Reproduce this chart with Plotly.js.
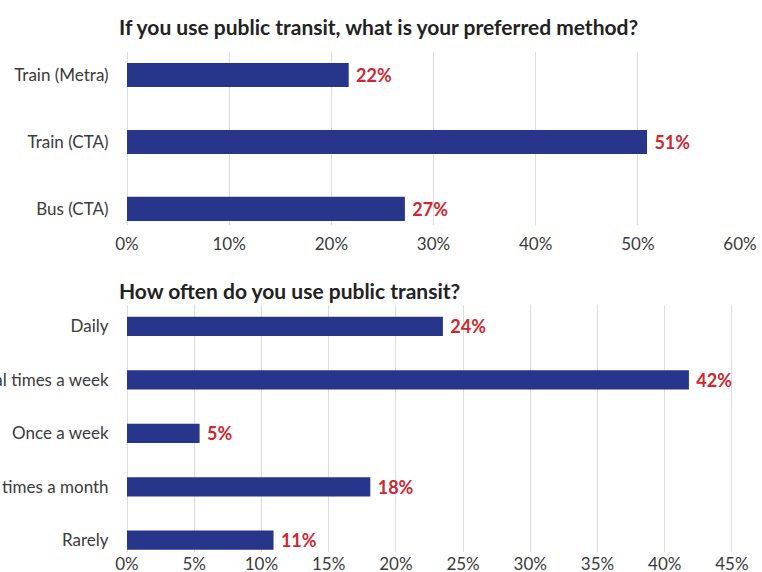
<!DOCTYPE html>
<html>
<head>
<meta charset="utf-8">
<script src="https://cdn.plot.ly/plotly-3.0.1.min.js"></script>
<style>html,body{margin:0;padding:0;background:#fff;}#chart{width:762px;height:572px;}</style>
</head>
<body>
<div id="chart"></div>
<script>
// Chart 1: preferred method
const methodCategories = ["Train (Metra)", "Train (CTA)", "Bus (CTA)"];
const methodValues = [21.7, 50.9, 27.2];
const methodLabels = ["22%", "51%", "27%"];
const methodTicks = [0, 10, 20, 30, 40, 50, 60];
const methodTickLabels = ["0%", "10%", "20%", "30%", "40%", "50%", "60%"];

// Chart 2: frequency
const frequencyCategories = ["Daily", "Several times a week", "Once a week", "A few times a month", "Rarely"];
const frequencyValues = [23.5, 41.8, 5.4, 18.1, 10.9];
const frequencyLabels = ["24%", "42%", "5%", "18%", "11%"];
const frequencyTicks = [0, 5, 10, 15, 20, 25, 30, 35, 40, 45];
const frequencyTickLabels = ["0%", "5%", "10%", "15%", "20%", "25%", "30%", "35%", "40%", "45%"];

const titles = ["If you use public transit, what is your preferred method?", "How often do you use public transit?"];

const barColor = "#27358a";
const labelColor = "#d0262f";
const fontFam = "Lato, 'Open Sans', sans-serif";

const valueFont = {family: fontFam, size: 18, color: labelColor, weight: "bold"};
const traces = [
  {
    type: "bar", orientation: "h",
    y: methodCategories, x: methodValues,
    text: methodLabels, texttemplate: " %{text}", textposition: "outside",
    constraintext: "none", textfont: valueFont,
    marker: {color: barColor, line: {width: 0}},
    width: 0.36, cliponaxis: false,
    xaxis: "x", yaxis: "y", hoverinfo: "skip"
  },
  {
    type: "bar", orientation: "h",
    y: frequencyCategories, x: frequencyValues,
    text: frequencyLabels, texttemplate: " %{text}", textposition: "outside",
    constraintext: "none", textfont: valueFont,
    marker: {color: barColor, line: {width: 0}},
    width: 0.36, cliponaxis: false,
    xaxis: "x2", yaxis: "y2", hoverinfo: "skip"
  }
];

const tickFont = {family: fontFam, size: 17, color: "#3a3a3a"};
const layout = {
  width: 762, height: 572,
  margin: {l: 127, r: 22, t: 52, b: 20},
  paper_bgcolor: "#ffffff", plot_bgcolor: "#ffffff",
  showlegend: false,
  font: {family: fontFam},
  xaxis: {
    domain: [0, 1], anchor: "y", range: [0, 60],
    tickvals: methodTicks, ticktext: methodTickLabels,
    showgrid: true, gridcolor: "#dcdcdc", gridwidth: 1,
    zeroline: true, zerolinecolor: "#dcdcdc", zerolinewidth: 1,
    showline: false, ticks: "outside", ticklen: 4, tickcolor: "rgba(0,0,0,0)",
    tickfont: tickFont, fixedrange: true
  },
  yaxis: {
    domain: [0.654, 1], anchor: "x",
    type: "category", categoryorder: "array", categoryarray: methodCategories,
    range: [2.24, -0.343],
    showgrid: false, zeroline: false, showline: false,
    ticks: "outside", ticklen: 14, tickcolor: "rgba(0,0,0,0)",
    tickfont: tickFont, fixedrange: true
  },
  xaxis2: {
    domain: [0, 1], anchor: "y2", range: [0, 45.6],
    tickvals: frequencyTicks, ticktext: frequencyTickLabels,
    showgrid: true, gridcolor: "#dcdcdc", gridwidth: 1,
    zeroline: true, zerolinecolor: "#dcdcdc", zerolinewidth: 1,
    showline: false, ticks: "", ticklen: 0,
    tickfont: tickFont, fixedrange: true
  },
  yaxis2: {
    domain: [0, 0.494], anchor: "x2",
    type: "category", categoryorder: "array", categoryarray: frequencyCategories,
    range: [4.22, -0.40],
    showgrid: false, zeroline: false, showline: false,
    ticks: "outside", ticklen: 14, tickcolor: "rgba(0,0,0,0)",
    tickfont: tickFont, fixedrange: true
  },
  annotations: [
    {text: titles[0], xref: "paper", yref: "paper", x: -0.0163, y: 1.05,
     xanchor: "left", yanchor: "middle", showarrow: false,
     font: {family: fontFam, size: 21, color: "#222222", weight: "bold"}},
    {text: titles[1], xref: "paper", yref: "paper", x: -0.0163, y: 0.524,
     xanchor: "left", yanchor: "middle", showarrow: false,
     font: {family: fontFam, size: 21, color: "#222222", weight: "bold"}}
  ]
};

Plotly.newPlot("chart", traces, layout, {displayModeBar: false, staticPlot: true});
</script>
</body>
</html>
